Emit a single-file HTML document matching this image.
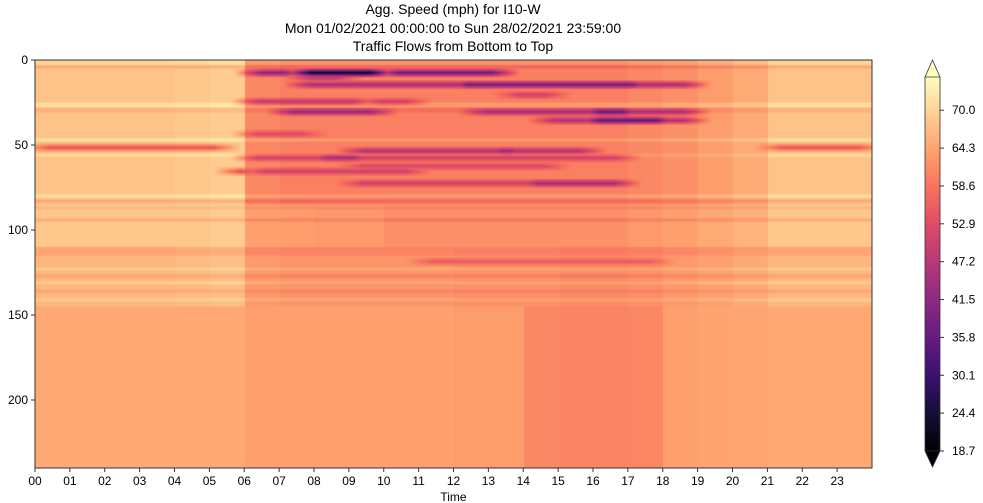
<!DOCTYPE html>
<html><head><meta charset="utf-8"><style>
body{margin:0;background:#fff;width:983px;height:503px;overflow:hidden;position:relative;font-family:"Liberation Sans",sans-serif;color:#000}
#title{position:absolute;left:0;width:906px;top:0;text-align:center;font-size:14px;line-height:18.5px}
</style></head><body>
<div id="title">Agg. Speed (mph) for I10-W<br>Mon 01/02/2021 00:00:00 to Sun 28/02/2021 23:59:00<br>Traffic Flows from Bottom to Top</div>
<canvas id="hm" width="837" height="240" style="position:absolute;left:35px;top:60px;width:837px;height:408px"></canvas>
<svg id="ax" width="983" height="503" style="position:absolute;left:0;top:0"></svg>
<script>
// ---- data ----
const hours=["00","01","02","03","04","05","06","07","08","09","10","11","12","13","14","15","16","17","18","19","20","21","22","23"];
const yTicks=[0,50,100,150,200];
const cbTicks=[18.7,24.4,30.1,35.8,41.5,47.2,52.9,58.6,64.3,70.0];
const vmin=18.7, vmax=75.0, nRows=240;
const bandStarts=[0,85,110,145];
const bandEnds=[85,110,145,240];
const bandA=[68,68,68,68,68.5,69,61,60,60,60,60,60,60,60,60,60,60,61,62,63.5,65,68,68,68];
const bandB=[68.5,68.5,68.5,68.5,68.5,69,64,63.5,63,63,62,62,62,62,62,62,62,63,64,65,66,68.5,68.5,68.5];
const bandC=[66.5,66.5,66.5,66.5,67,67.5,63,62.5,62.5,62.5,62.5,62.5,62,62,62,61.5,61.5,62,63,64,65,66.5,66.5,66.5];
const bandD=[64.8,64.8,64.8,64.8,64.8,64.8,64,64,64,64,64,64,63.5,63.5,61,60.5,60.5,60.8,64,64.3,64.5,64.8,64.8,64.8];
const bands=[bandA,bandB,bandC,bandD];
// stripes: [rowStart,rowEnd,delta mph]
const stripes=[[0,2,2],[3,4,-3],[25,27,3],[28,30,-2],[46,47,3],[55,56,2],[79,80,3],[82,83,-3],[86,87,-2],[93,94,-3],[110,112,-2],[113,114,-2],[122,123,2],[126,127,-2],[130,131,2],[135,136,-2],[140,141,2]];
// jams: [row, startHour, endHour, speed]
const jamRow=[7,7,7,10,14,14,24,24,30,30,30,20,35,35,43,51,51,53,53,57,57,62,65,65,72,72,118];
const jamStart=[6.1,7.5,10,7.5,7.5,12,6,9.5,7,12.5,15.8,13.5,14.5,15.8,6,0,21,9,13,6,8,9,5.5,6.2,9,14,11];
const jamEnd=[7.5,10,13.5,9,19,17.5,9.5,11,10,19,17.2,15,19,18.2,8,5.5,24,16,14,17,9.5,15,6.3,11,17,17,18];
const jamSpeed=[40,22,36,48,44,37,48,50,42,44,35,50,45,34,52,54,54,46,42,50,44,52,52,50,50,44,55];
// ---- magma ----
const mag=[[0,0,4],[20,14,54],[59,15,112],[100,26,128],[140,41,129],[183,55,121],[222,73,104],[247,112,92],[254,159,109],[254,207,146],[252,253,191]];
function cmap(v){let t=(v-vmin)/(vmax-vmin);t=Math.max(0,Math.min(1,t))*10;let i=Math.min(9,Math.floor(t)),f=t-i;return mag[i].map((c,k)=>Math.round(c+(mag[i+1][k]-c)*f));}
// ---- heatmap ----
const cv=document.getElementById('hm'),ctx=cv.getContext('2d'),W=cv.width;
const img=ctx.createImageData(W,nRows);
for(let r=0;r<nRows;r++){
  let b=0;for(let k=0;k<bandStarts.length;k++)if(r>=bandStarts[k]&&r<bandEnds[k])b=k;
  let d=0;stripes.forEach(s=>{if(r>=s[0]&&r<=s[1])d+=s[2];});
  for(let x=0;x<W;x++){
    const h=x/W*24;let v=bands[b][Math.min(23,Math.floor(h))]+(r<145?d:0);
    let v0=v;
    for(let j=0;j<jamRow.length;j++){
      const dr=Math.abs(r-jamRow[j]);
      if(dr<3&&h>=jamStart[j]-0.4&&h<jamEnd[j]+0.4){
        let wr=1-dr/3;
        let wh=Math.min(1,(h-jamStart[j]+0.4)/0.8,(jamEnd[j]+0.4-h)/0.8);
        const w=wr*Math.max(0,wh);
        v=Math.min(v,v0+(jamSpeed[j]-v0)*w);}
    }
    const c=cmap(v),p=(r*W+x)*4;img.data[p]=c[0];img.data[p+1]=c[1];img.data[p+2]=c[2];img.data[p+3]=255;
  }
}
ctx.putImageData(img,0,0);
// ---- axes ----
const svg=document.getElementById('ax'),NS='http://www.w3.org/2000/svg';
const X0=35,X1=872,Y0=60,Y1=468;
const xs=h=>X0+(h/24)*(X1-X0), ys=r=>Y0+(r/nRows)*(Y1-Y0);
function el(tag,a,txt){const e=document.createElementNS(NS,tag);for(const k in a)e.setAttribute(k,a[k]);if(txt!=null)e.textContent=txt;svg.appendChild(e);return e;}
let fr=el('rect',{x:X0,y:Y0,width:X1-X0,height:Y1-Y0,fill:'none',stroke:'#333','stroke-width':1});


hours.forEach((lab,i)=>{
  const x=xs(i);
  let tk=el('line',{x1:x,x2:x,y1:Y1,y2:Y1+4,stroke:'#333'});
  
  
  let t=el('text',{x:x,y:Y1+17,'font-size':12,'text-anchor':'middle','font-family':'Liberation Sans'},lab);
  
  
});
yTicks.forEach(v=>{
  const y=ys(v);
  let tk=el('line',{x1:X0-4,x2:X0,y1:y,y2:y,stroke:'#333'});
  
  
  let t=el('text',{x:X0-7,y:y+4,'font-size':12,'text-anchor':'end','font-family':'Liberation Sans'},v);
  
  
});
let xt=el('text',{x:(X0+X1)/2,y:501,'font-size':12,'text-anchor':'middle','font-family':'Liberation Sans'},'Time');


// colorbar
const CX0=925,CX1=940,CT=77,CB=451;
const cy=v=>CB-(v-vmin)/(vmax-vmin)*(CB-CT);
const defs=el('defs',{});const g=document.createElementNS(NS,'linearGradient');
g.setAttribute('id','cg');g.setAttribute('x1',0);g.setAttribute('x2',0);g.setAttribute('y1',1);g.setAttribute('y2',0);
mag.forEach((c,i)=>{const s=document.createElementNS(NS,'stop');s.setAttribute('offset',i/10);s.setAttribute('stop-color','rgb('+c.join(',')+')');g.appendChild(s);});
defs.appendChild(g);
let cb=el('rect',{x:CX0,y:CT,width:CX1-CX0,height:CB-CT,fill:'url(#cg)'});


let tu=el('polygon',{points:`${CX0},${CT} ${(CX0+CX1)/2},60 ${CX1},${CT}`,fill:'rgb(252,253,191)',stroke:'#333','stroke-width':0.8});


let td=el('polygon',{points:`${CX0},${CB} ${(CX0+CX1)/2},467 ${CX1},${CB}`,fill:'rgb(0,0,4)',stroke:'#333','stroke-width':0.8});


el('line',{x1:CX0,x2:CX0,y1:CT,y2:CB,stroke:'#333','stroke-width':0.8});
el('line',{x1:CX1,x2:CX1,y1:CT,y2:CB,stroke:'#333','stroke-width':0.8});
cbTicks.forEach(v=>{
  const y=cy(v);
  el('line',{x1:CX1,x2:CX1+4,y1:y,y2:y,stroke:'#333'});
  let t=el('text',{x:CX1+12,y:y+4,'font-size':12,'font-family':'Liberation Sans'},v.toFixed(1));
  
  
});
</script>
</body></html>
